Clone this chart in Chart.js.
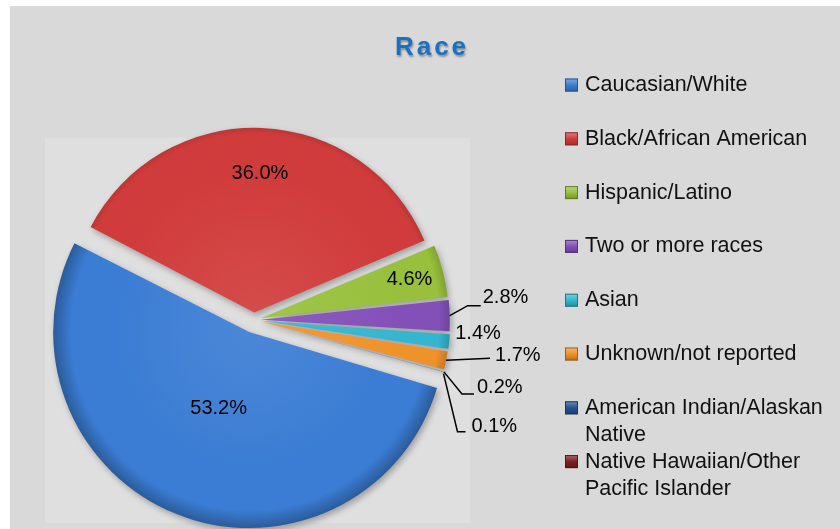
<!DOCTYPE html>
<html>
<head>
<meta charset="utf-8">
<script src="https://cdn.jsdelivr.net/npm/chart.js@4.4.1/dist/chart.umd.min.js"></script>
<style>
  html, body { margin: 0; padding: 0; background: #fff; }
  canvas { display: block; }
</style>
</head>
<body>
<canvas id="race-chart" width="840" height="529"></canvas>
<script>
// --- Data ---
const categories = ['Caucasian/White', 'Black/African American', 'Hispanic/Latino', 'Two or more races',
    'Asian', 'Unknown/not reported', 'American Indian/Alaskan Native', 'Native Hawaiian/Other Pacific Islander'];
const legendLines = [['Caucasian/White'], ['Black/African American'], ['Hispanic/Latino'], ['Two or more races'],
    ['Asian'], ['Unknown/not reported'], ['American Indian/Alaskan', 'Native'], ['Native Hawaiian/Other', 'Pacific Islander']];
const percentages = [53.2, 36.0, 4.6, 2.8, 1.4, 1.7, 0.2, 0.1];
const chartTitle = 'Race';

// --- Styles / layout ---
const sliceColors = ['#3b7dd4', '#d03c3b', '#98c03c', '#8350b8', '#35b6d0', '#f0922a', '#24528f', '#7e1f1f'];
const sliceOffsets = [52, 30, 28, 28, 28, 28, 28, 28]; // chart.js draws offset/4 px of shift
const pie = { cx: 254, cy: 321, r: 184 };
const maxOffset = Math.max(...sliceOffsets);
const side = pie.r * 2 + maxOffset;
const insideLabelDist = { 0: 0.45, 1: 0.76, 2: 0.84 };
// outside labels: leader points and text position relative to the slice's outer edge
const outsideLabels = {
    3: { line: [[18, -10], [31, -10]], text: [33, -18] },
    4: { line: null, text: [6, -8] },
    5: { line: [[44, -2]], text: [49, -5] },
    6: { line: [[18, 22], [30, 22]], text: [33, 16] },
    7: { line: [[14, 58], [22, 58]], text: [28, 53] }
};

function shade(hex, amt) {
    const n = parseInt(hex.slice(1), 16);
    let r = n >> 16, g = (n >> 8) & 255, b = n & 255;
    const f = c => amt >= 0 ? Math.round(c + (255 - c) * amt) : Math.round(c * (1 + amt));
    return `rgb(${f(r)},${f(g)},${f(b)})`;
}

function sliceFill(ctx) {
    const base = sliceColors[ctx.dataIndex];
    const area = ctx.chart.chartArea;
    if (!area) return base;
    const cx = (area.left + area.right) / 2, cy = (area.top + area.bottom) / 2;
    const g = ctx.chart.ctx.createRadialGradient(cx, cy, 0, cx, cy, pie.r + 14);
    g.addColorStop(0, shade(base, 0.08));
    g.addColorStop(0.7, base);
    g.addColorStop(0.9, base);
    g.addColorStop(1, shade(base, -0.3));
    return g;
}

// Background, title and shadows
const backdropPlugin = {
    id: 'backdrop',
    beforeDraw(chart) {
        const ctx = chart.ctx;
        ctx.save();
        ctx.fillStyle = '#ffffff';
        ctx.fillRect(0, 0, chart.width, chart.height);
        ctx.fillStyle = '#d9d9d9';
        ctx.fillRect(10, 6, chart.width - 10, chart.height - 6);
        ctx.fillStyle = '#dfdfdf';
        ctx.fillRect(45, 138, 425, 385);
        ctx.restore();
    },
    beforeDatasetsDraw(chart) {
        const ctx = chart.ctx;
        ctx.save();
        ctx.shadowColor = 'rgba(0,0,0,0.3)';
        ctx.shadowBlur = 6;
        ctx.shadowOffsetX = 2;
        ctx.shadowOffsetY = 3;
    },
    afterDatasetsDraw(chart) {
        chart.ctx.restore();
    },
    afterDraw(chart) {
        const ctx = chart.ctx;
        ctx.save();
        ctx.font = 'bold 26px "Liberation Sans", Arial, sans-serif';
        ctx.letterSpacing = '3px';
        ctx.textAlign = 'center';
        ctx.textBaseline = 'middle';
        ctx.shadowColor = 'rgba(0,0,0,0.35)';
        ctx.shadowBlur = 2;
        ctx.shadowOffsetX = 1;
        ctx.shadowOffsetY = 2;
        ctx.fillStyle = '#1a70c2';
        ctx.fillText(chartTitle, 432, 48);
        ctx.restore();
    }
};

// Percentage labels with leader lines
const sliceLabelPlugin = {
    id: 'sliceLabels',
    afterDatasetsDraw(chart) {
        const ctx = chart.ctx;
        const meta = chart.getDatasetMeta(0);
        ctx.save();
        ctx.font = '20px "Liberation Sans", Arial, sans-serif';
        ctx.fillStyle = '#000';
        ctx.strokeStyle = '#000';
        ctx.lineWidth = 1.5;
        ctx.textBaseline = 'middle';
        meta.data.forEach((arc, i) => {
            const p = arc.getProps(['x', 'y', 'startAngle', 'endAngle', 'outerRadius', 'circumference'], true);
            const mid = (p.startAngle + p.endAngle) / 2;
            const shift = (arc.options.offset || 0) / 4;
            const fix = 1 - Math.sin(Math.min(Math.PI, p.circumference || 0));
            const ox = p.x + Math.cos(mid) * shift, oy = p.y + Math.sin(mid) * shift;
            const text = percentages[i].toFixed(1) + '%';
            if (insideLabelDist[i] !== undefined) {
                const d = p.outerRadius * insideLabelDist[i];
                ctx.textAlign = 'center';
                ctx.fillText(text, ox + Math.cos(mid) * d, oy + Math.sin(mid) * d);
                return;
            }
            const spec = outsideLabels[i];
            if (!spec) return;
            const edge = p.outerRadius + shift * fix;
            const ax = ox + Math.cos(mid) * edge, ay = oy + Math.sin(mid) * edge;
            if (spec.line) {
                ctx.beginPath();
                ctx.moveTo(ax, ay);
                spec.line.forEach(([dx, dy]) => ctx.lineTo(ax + dx, ay + dy));
                ctx.stroke();
            }
            ctx.textAlign = 'left';
            ctx.fillText(text, ax + spec.text[0], ay + spec.text[1]);
        });
        ctx.restore();
    }
};

// Legend on the right
const sideLegendPlugin = {
    id: 'sideLegend',
    afterDraw(chart) {
        const ctx = chart.ctx;
        const x0 = 565, y0 = 85, step = 53.8, lineH = 27, box = 13;
        ctx.save();
        ctx.font = '21.5px "Liberation Sans", Arial, sans-serif';
        ctx.textBaseline = 'middle';
        ctx.textAlign = 'left';
        legendLines.forEach((lines, i) => {
            const y = y0 + i * step;
            const base = sliceColors[i];
            const g = ctx.createLinearGradient(0, y - box / 2, 0, y + box / 2);
            g.addColorStop(0, shade(base, 0.35));
            g.addColorStop(0.5, base);
            g.addColorStop(1, shade(base, -0.25));
            ctx.fillStyle = g;
            ctx.fillRect(x0, y - box / 2, box, box);
            ctx.strokeStyle = shade(base, -0.35);
            ctx.lineWidth = 1;
            ctx.strokeRect(x0 + 0.5, y - box / 2 + 0.5, box - 1, box - 1);
            ctx.fillStyle = '#111';
            lines.forEach((t, k) => ctx.fillText(t, x0 + 20, y + k * lineH));
        });
        ctx.restore();
    }
};

const canvas = document.getElementById('race-chart');
new Chart(canvas.getContext('2d'), {
    type: 'pie',
    data: {
        labels: categories,
        datasets: [{
            data: percentages,
            backgroundColor: sliceFill,
            borderWidth: 0,
            offset: sliceOffsets,
            hoverOffset: 0
        }]
    },
    options: {
        responsive: false,
        animation: false,
        events: [],
        rotation: 106,
        layout: {
            padding: {
                left: pie.cx - side / 2,
                top: pie.cy - side / 2,
                right: 840 - (pie.cx + side / 2),
                bottom: 529 - (pie.cy + side / 2)
            }
        },
        plugins: {
            legend: { display: false },
            title: { display: false },
            tooltip: { enabled: false }
        }
    },
    plugins: [backdropPlugin, sliceLabelPlugin, sideLegendPlugin]
});
</script>
</body>
</html>
